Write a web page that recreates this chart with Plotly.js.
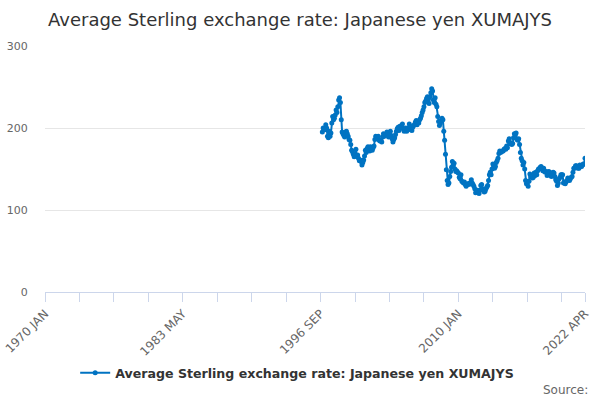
<!DOCTYPE html>
<html>
<head>
<meta charset="utf-8">
<script src="https://cdn.plot.ly/plotly-3.0.1.min.js"></script>
<style>
  html, body { margin: 0; padding: 0; background: #fff; }
  #chart { width: 600px; height: 400px; }
</style>
</head>
<body>
<div id="chart"></div>
<script>
const monthNames = ['JAN', 'FEB', 'MAR', 'APR', 'MAY', 'JUN', 'JUL', 'AUG', 'SEP', 'OCT', 'NOV', 'DEC'];

// every month from 1970 JAN to 2022 APR is a category on the axis
let months = [];
for (let y = 1970; y <= 2022; y++) {
  for (let m = 0; m < 12; m++) {
    if (y === 2022 && m > 3) break;
    months.push(y + ' ' + monthNames[m]);
  }
}

const firstMonth = '1996 NOV';

// monthly averages, yen per pound, from 1996 NOV
const yen = [
  195, 200, // 1996
  199, 198, 204, 200, 190, 188, 196, 190, 194, 206, 214, 210, // 1997
  212, 216, 222, 219, 226, 234, 237, 231, 210, 195, 193, 191, // 1998
  189, 195, 196, 193, 190, 186, 185, 180, 173, 171, 168, 165, // 1999
  167, 174, 166, 167, 163, 160, 161, 159, 155, 158, 161, 166, // 2000
  173, 170, 175, 177, 173, 172, 177, 174, 173, 176, 178, 186, // 2001
  190, 189, 187, 190, 185, 184, 185, 183, 189, 193, 190, 192, // 2002
  192, 195, 191, 189, 192, 196, 191, 187, 183, 186, 188, 192, // 2003
  196, 199, 201, 197, 202, 200, 203, 205, 199, 196, 197, 200, // 2004
  196, 198, 200, 205, 202, 198, 197, 201, 203, 204, 207, 209, // 2005
  204, 208, 206, 210, 212, 215, 219, 222, 226, 231, 233, 236, // 2006
  238, 236, 230, 238, 243, 248, 245, 234, 231, 237, 229, 226, // 2007
  214, 208, 203, 206, 209, 212, 210, 196, 185, 168, 149, 136, // 2008
  131, 133, 141, 147, 152, 159, 155, 157, 150, 147, 148, 146, // 2009
  145, 140, 138, 143, 135, 134, 133, 134, 131, 129, 131, 132, // 2010
  131, 133, 132, 137, 133, 131, 129, 126, 121, 122, 124, 121, // 2011
  120, 124, 130, 131, 126, 124, 122, 123, 126, 128, 130, 136, // 2012
  143, 146, 143, 150, 156, 152, 151, 153, 158, 160, 163, 169, // 2013
  172, 170, 171, 172, 172, 174, 175, 174, 178, 176, 184, 187, // 2014
  181, 182, 180, 181, 188, 193, 192, 194, 186, 185, 187, 180, // 2015
  170, 163, 160, 155, 158, 150, 136, 132, 134, 129, 135, 144, // 2016
  141, 141, 139, 140, 145, 142, 146, 143, 148, 150, 150, 152, // 2017
  153, 151, 148, 151, 147, 146, 147, 142, 146, 147, 146, 142, // 2018
  141, 144, 146, 145, 141, 137, 135, 130, 133, 138, 140, 143, // 2019
  143, 143, 133, 134, 132, 134, 136, 139, 137, 136, 138, 140, // 2020
  141, 146, 151, 151, 154, 154, 152, 151, 151, 155, 153, 153, // 2021
  155, 156, 156, 163, // 2022
];

const labelledTicks = ['1970 JAN', '1983 MAY', '1996 SEP', '2010 JAN', '2022 APR'];

let start = months.indexOf(firstMonth);
let xs = months.slice(start, start + yen.length);

// tick marks every 40 months plus the last month, labels only on some
let tickvals = [];
for (let i = 0; i < months.length; i += 40) tickvals.push(months[i]);
tickvals.push(months[months.length - 1]);
let ticktext = tickvals.map(t => (labelledTicks.includes(t) ? t : ''));

const seriesName = 'Average Sterling exchange rate: Japanese yen XUMAJYS';
const blue = '#0073c2';

let data = [
  {
    x: xs,
    y: yen,
    type: 'scatter',
    mode: 'lines+markers',
    name: seriesName,
    line: { color: blue, width: 2 },
    marker: { color: blue, size: 5 },
  },
];

let layout = {
  width: 600,
  height: 400,
  paper_bgcolor: '#fff',
  plot_bgcolor: '#fff',
  font: { family: 'DejaVu Sans, sans-serif', color: '#666', size: 11 },
  margin: { t: 46, r: 15, b: 108, l: 45 },
  title: {
    text: 'Average Sterling exchange rate: Japanese yen XUMAJYS',
    font: { size: 18, color: '#333' },
    x: 0.5,
    xanchor: 'center',
    y: 0.95,
    yanchor: 'middle',
  },
  xaxis: {
    type: 'category',
    categoryorder: 'array',
    categoryarray: months,
    range: [0, months.length - 1],
    tickmode: 'array',
    tickvals: tickvals,
    ticktext: ticktext,
    tickangle: -45,
    ticks: 'outside',
    ticklen: 9,
    tickcolor: '#ccd6eb',
    tickfont: { size: 12, color: '#666' },
    showgrid: false,
    showline: true,
    linecolor: '#ccd6eb',
    zeroline: false,
    fixedrange: true,
  },
  yaxis: {
    range: [0, 300],
    tickvals: [0, 100, 200, 300],
    showgrid: true,
    gridcolor: '#e6e6e6',
    zeroline: false,
    ticks: 'outside',
    ticklen: 14,
    tickcolor: 'rgba(0,0,0,0)',
    tickfont: { size: 11, color: '#666' },
    fixedrange: true,
  },
  showlegend: true,
  legend: {
    orientation: 'h',
    x: 0.467,
    xanchor: 'center',
    y: -0.33,
    yanchor: 'middle',
    itemwidth: 30,
    font: { size: 12.6, color: '#333', weight: 'bold' },
  },
  annotations: [
    {
      text: 'Source:',
      xref: 'paper',
      yref: 'paper',
      x: 1.01,
      y: -0.4,
      xanchor: 'right',
      yanchor: 'middle',
      showarrow: false,
      font: { size: 12, color: '#666' },
    },
  ],
};

Plotly.newPlot('chart', data, layout, { staticPlot: true, displayModeBar: false });
</script>
</body>
</html>
